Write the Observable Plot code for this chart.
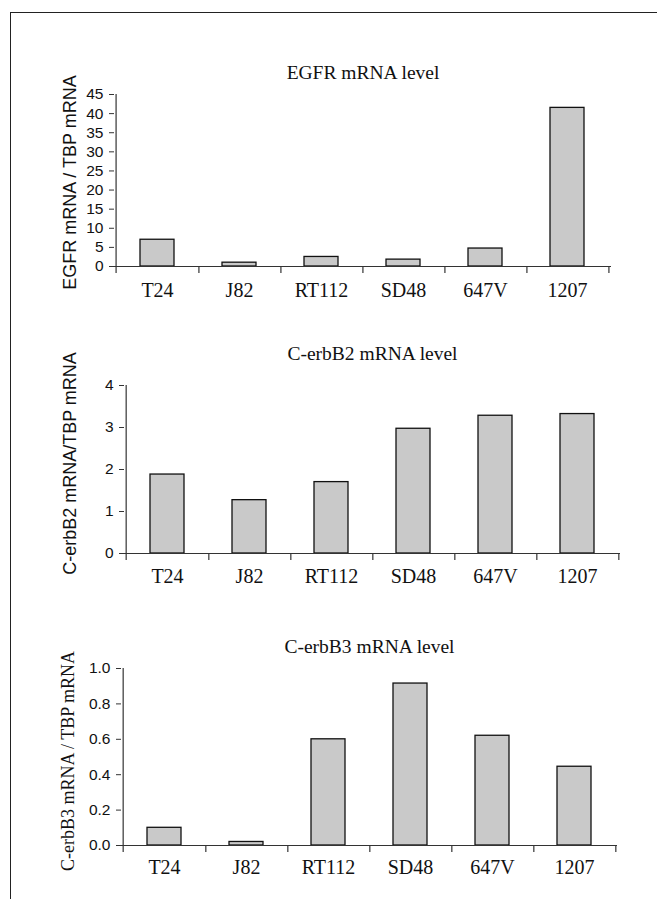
<!DOCTYPE html>
<html><head><meta charset="utf-8">
<script src="https://cdn.jsdelivr.net/npm/d3@7"></script>
<script src="https://cdn.jsdelivr.net/npm/@observablehq/plot@0.6"></script>
<style>
body{margin:0;background:#fff;}
#wrap{position:relative;width:657px;height:899px;overflow:hidden;background:#fff;}
#border{position:absolute;left:10px;top:12px;width:800px;height:1000px;border-left:1.5px solid #222;border-top:1.5px solid #222;}
.panel{position:absolute;left:0;}
</style></head><body><div id="wrap"><div id="border"></div></div>
<script>
const cellLines = ["T24", "J82", "RT112", "SD48", "647V", "1207"];
const egfr = [7.0, 1.0, 2.5, 1.8, 4.7, 41.5];
const erbb2 = [1.88, 1.27, 1.70, 2.97, 3.28, 3.32];
const erbb3 = [0.10, 0.02, 0.60, 0.915, 0.62, 0.445];
const titles = ["EGFR mRNA level", "C-erbB2 mRNA level", "C-erbB3 mRNA level"];
const yLabels = ["EGFR mRNA / TBP mRNA", "C-erbB2 mRNA/TBP mRNA", "C-erbB3 mRNA / TBP mRNA"];
const egfrTicks = [0, 5, 10, 15, 20, 25, 30, 35, 40, 45];
const erbb2Ticks = [0, 1, 2, 3, 4];
const erbb3Ticks = [0, 0.2, 0.4, 0.6, 0.8, 1.0];

const serif = "'Liberation Serif', 'Times New Roman', Times, serif";
const sans = "'Liberation Sans', Arial, Helvetica, sans-serif";

const panels = [
  {values: egfr, title: titles[0], ylab: yLabels[0], ticks: egfrTicks, domain: [0, 45], fmt: d3.format("d"),
   top: 40, height: 280, mt: 54, mb: 54, ml: 114, mr: 46, titleDy: -22, ylabDx: -44, ylabDy: 2, ylabFont: sans, ylabSize: 18, pad: 16},
  {values: erbb2, title: titles[1], ylab: yLabels[1], ticks: erbb2Ticks, domain: [0, 4], fmt: d3.format("d"),
   top: 320, height: 280, mt: 65, mb: 47, ml: 124, mr: 37, titleDy: -32, ylabDx: -54, ylabDy: -6, ylabFont: sans, ylabSize: 18, pad: 15},
  {values: erbb3, title: titles[2], ylab: yLabels[2], ticks: erbb3Ticks, domain: [0, 1], fmt: d3.format(".1f"),
   top: 600, height: 299, mt: 68, mb: 54, ml: 121, mr: 40, titleDy: -22, ylabDx: -53, ylabDy: 4, ylabFont: serif, ylabSize: 18, pad: 14}
];

const wrap = document.getElementById("wrap");
for (const p of panels) {
  const width = 657;
  const step = (width - p.ml - p.mr) / cellLines.length;
  const frameH = p.height - p.mt - p.mb;
  const data = cellLines.map((c, i) => ({cell: c, value: p.values[i]}));
  const chart = Plot.plot({
    width, height: p.height,
    marginTop: p.mt, marginBottom: p.mb, marginLeft: p.ml, marginRight: p.mr,
    x: {domain: cellLines, paddingInner: 0.58, paddingOuter: 0.29, axis: null},
    y: {domain: p.domain, axis: null},
    marks: [
      Plot.barY(data, {x: "cell", y: "value", fill: "#c9c9c9", stroke: "#111", strokeWidth: 1.3}),
      Plot.ruleY([0], {stroke: "#333", strokeWidth: 1.2}),
      Plot.ruleX([cellLines[0]], {x: d => d, dx: -step / 2, stroke: "#333", strokeWidth: 1.2, insetBottom: -7}),
      Plot.ruleX(cellLines, {x: d => d, dx: step / 2, stroke: "#333", strokeWidth: 1.2, insetTop: frameH, insetBottom: -7}),
      Plot.axisY({ticks: p.ticks, tickFormat: p.fmt, tickSize: 5, tickPadding: 6, stroke: "#333",
        fontSize: 15.5, fontFamily: sans, fill: "#111", label: null}),
      Plot.axisX({tickSize: 0, tickPadding: p.pad, fontSize: 20, fontFamily: serif, fill: "#111", label: null}),
      Plot.text([p.title], {text: d => d, frameAnchor: "top", lineAnchor: "middle", dy: p.titleDy,
        fontSize: 19.5, fontFamily: serif, fill: "#111"}),
      Plot.text([p.ylab], {text: d => d, frameAnchor: "left", textAnchor: "middle", lineAnchor: "middle", rotate: -90,
        dx: p.ylabDx, dy: p.ylabDy, fontSize: p.ylabSize, fontFamily: p.ylabFont, fill: "#111"})
    ]
  });
  chart.classList.add("panel");
  chart.style.top = p.top + "px";
  wrap.appendChild(chart);
}
</script></body></html>
